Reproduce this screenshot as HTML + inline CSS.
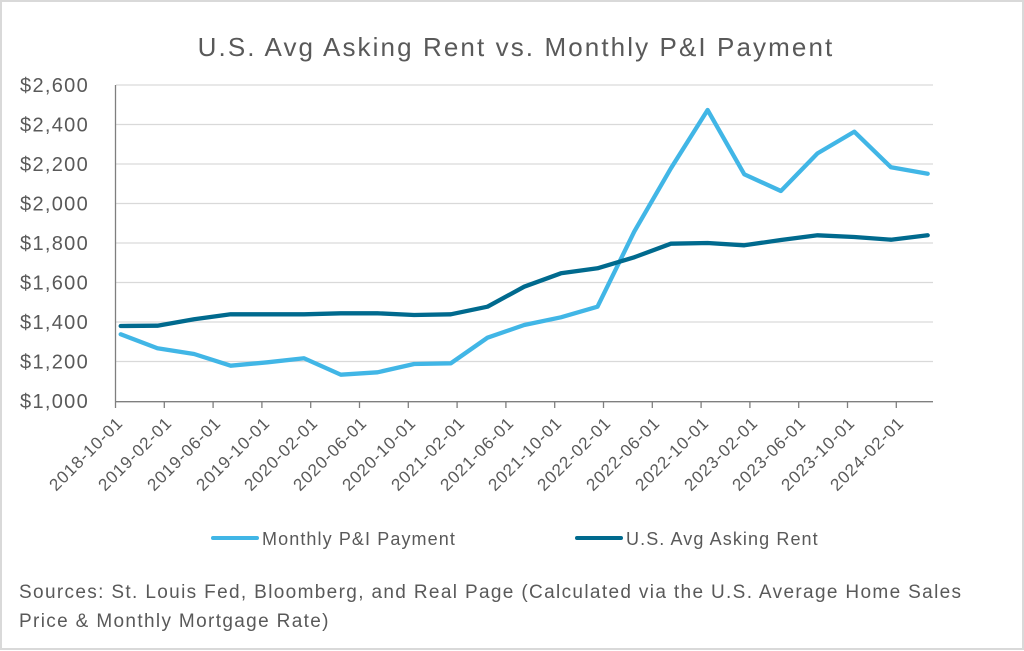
<!DOCTYPE html>
<html><head><meta charset="utf-8"><style>
html,body{margin:0;padding:0;background:#fff}
svg{display:block}
text{font-family:"Liberation Sans",sans-serif;fill:#595959}
</style></head><body>
<svg width="1024" height="651" xmlns="http://www.w3.org/2000/svg">
<rect x="1" y="1" width="1022" height="648" fill="#fff" stroke="#d9d9d9" stroke-width="2"/>
<text x="516" y="56" font-size="26" letter-spacing="2.1" text-anchor="middle">U.S. Avg Asking Rent vs. Monthly P&amp;I Payment</text>
<g stroke="#d9d9d9" stroke-width="1.3">
<line x1="116" x2="933" y1="85" y2="85"/>
<line x1="116" x2="933" y1="124.5" y2="124.5"/>
<line x1="116" x2="933" y1="164" y2="164"/>
<line x1="116" x2="933" y1="203.5" y2="203.5"/>
<line x1="116" x2="933" y1="243" y2="243"/>
<line x1="116" x2="933" y1="282.5" y2="282.5"/>
<line x1="116" x2="933" y1="322" y2="322"/>
<line x1="116" x2="933" y1="361.5" y2="361.5"/>
</g>
<g stroke="#7f7f7f" stroke-width="1.3">
<line x1="115.5" x2="115.5" y1="85" y2="402"/>
<line x1="115.5" x2="933" y1="401.7" y2="401.7"/>
<line x1="115.5" x2="115.5" y1="402" y2="408"/>
<line x1="164.3" x2="164.3" y1="402" y2="408"/>
<line x1="213.1" x2="213.1" y1="402" y2="408"/>
<line x1="261.9" x2="261.9" y1="402" y2="408"/>
<line x1="310.7" x2="310.7" y1="402" y2="408"/>
<line x1="359.5" x2="359.5" y1="402" y2="408"/>
<line x1="408.3" x2="408.3" y1="402" y2="408"/>
<line x1="457.1" x2="457.1" y1="402" y2="408"/>
<line x1="505.9" x2="505.9" y1="402" y2="408"/>
<line x1="554.7" x2="554.7" y1="402" y2="408"/>
<line x1="603.5" x2="603.5" y1="402" y2="408"/>
<line x1="652.3" x2="652.3" y1="402" y2="408"/>
<line x1="701.1" x2="701.1" y1="402" y2="408"/>
<line x1="749.9" x2="749.9" y1="402" y2="408"/>
<line x1="798.7" x2="798.7" y1="402" y2="408"/>
<line x1="847.5" x2="847.5" y1="402" y2="408"/>
<line x1="896.3" x2="896.3" y1="402" y2="408"/>
</g>
<g font-size="20" letter-spacing="1.3" text-anchor="end">
<text x="89" y="92">$2,600</text>
<text x="89" y="131.5">$2,400</text>
<text x="89" y="171">$2,200</text>
<text x="89" y="210.5">$2,000</text>
<text x="89" y="250">$1,800</text>
<text x="89" y="289.5">$1,600</text>
<text x="89" y="329">$1,400</text>
<text x="89" y="368.5">$1,200</text>
<text x="89" y="408">$1,000</text>
</g>
<g font-size="17" letter-spacing="0.9" text-anchor="end">
<text transform="translate(124,424) rotate(-45)">2018-10-01</text>
<text transform="translate(173,424) rotate(-45)">2019-02-01</text>
<text transform="translate(222,424) rotate(-45)">2019-06-01</text>
<text transform="translate(271,424) rotate(-45)">2019-10-01</text>
<text transform="translate(319,424) rotate(-45)">2020-02-01</text>
<text transform="translate(368,424) rotate(-45)">2020-06-01</text>
<text transform="translate(417,424) rotate(-45)">2020-10-01</text>
<text transform="translate(466,424) rotate(-45)">2021-02-01</text>
<text transform="translate(515,424) rotate(-45)">2021-06-01</text>
<text transform="translate(563,424) rotate(-45)">2021-10-01</text>
<text transform="translate(612,424) rotate(-45)">2022-02-01</text>
<text transform="translate(661,424) rotate(-45)">2022-06-01</text>
<text transform="translate(710,424) rotate(-45)">2022-10-01</text>
<text transform="translate(759,424) rotate(-45)">2023-02-01</text>
<text transform="translate(807,424) rotate(-45)">2023-06-01</text>
<text transform="translate(856,424) rotate(-45)">2023-10-01</text>
<text transform="translate(905,424) rotate(-45)">2024-02-01</text>
</g>
<polyline fill="none" stroke="#41b6e6" stroke-width="4.3" stroke-linejoin="round" stroke-linecap="round"
points="120.7,334.3 157.4,348.3 194.1,354 230.7,365.7 267.4,362.3 304.1,358.3 340.8,374.7 377.5,372.3 414.1,364 450.8,363.3 487.5,337.7 524.2,325 560.9,317.3 597.5,306.7 634.2,231.7 670.9,168.3 707.6,110 744.3,174.3 780.9,191 817.6,153.3 854.3,131.7 891,167.3 927.7,173.7"/>
<polyline fill="none" stroke="#006a8e" stroke-width="4.3" stroke-linejoin="round" stroke-linecap="round"
points="120.7,326 157.4,325.7 194.1,319.3 230.7,314.3 267.4,314.3 304.1,314.3 340.8,313.3 377.5,313.3 414.1,315 450.8,314.3 487.5,306.7 524.2,286.7 560.9,273.3 597.5,268.3 634.2,257.3 670.9,243.7 707.6,243 744.3,245.3 780.9,240 817.6,235.3 854.3,237 891,239.7 927.7,235.3"/>
<line x1="213" x2="257" y1="538" y2="538" stroke="#41b6e6" stroke-width="4" stroke-linecap="round"/>
<text x="262" y="545" font-size="18" letter-spacing="1.1">Monthly P&amp;I Payment</text>
<line x1="577" x2="621" y1="538" y2="538" stroke="#006a8e" stroke-width="4" stroke-linecap="round"/>
<text x="626" y="545" font-size="18" letter-spacing="1.1">U.S. Avg Asking Rent</text>
<text x="19" y="598" font-size="19" letter-spacing="1.35">Sources: St. Louis Fed, Bloomberg, and Real Page (Calculated via the U.S. Average Home Sales</text>
<text x="19" y="627" font-size="19" letter-spacing="1.35">Price &amp; Monthly Mortgage Rate)</text>
</svg>
</body></html>
